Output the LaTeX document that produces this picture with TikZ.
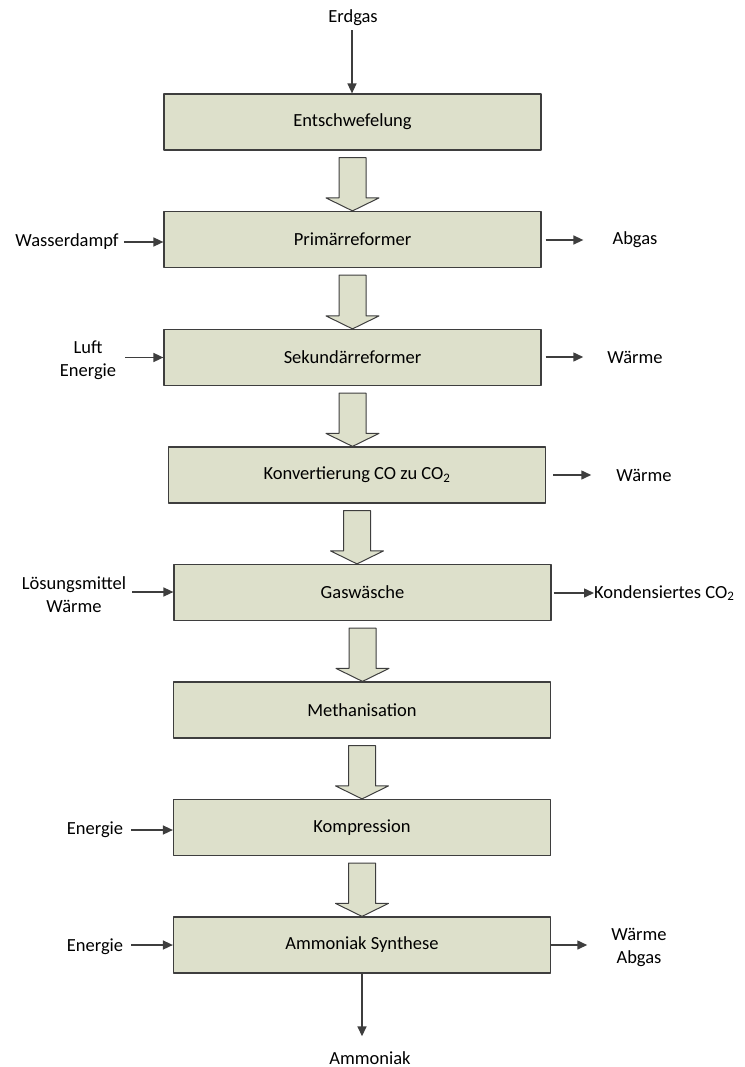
\documentclass[tikz,border=0pt]{standalone}
\usepackage{fontspec}
\setmainfont{Carlito}
\usetikzlibrary{arrows.meta,calc}
\definecolor{boxfill}{RGB}{221,224,203}
\definecolor{linegray}{RGB}{62,62,62}

% hollow block arrow from one stage down to the next
\newcommand{\flowarrow}[2]{%
  \filldraw[blockarrow] let \p1=(#1.south), \p2=(#2.north) in
    (\x1-13.5pt,\y1-7pt) -- (\x1+13.5pt,\y1-7pt) -- (\x1+13.5pt,\y2+13pt)
    -- (\x1+26.5pt,\y2+13pt) -- (\x1,\y2) -- (\x1-26.5pt,\y2+13pt)
    -- (\x1-13.5pt,\y2+13pt) -- cycle;}

\begin{document}
\begin{tikzpicture}[x=1pt,y=-1pt,join=round,
    font=\fontsize{18.5}{23}\selectfont,
    stage/.style={draw=linegray,fill=boxfill,line width=1.2pt,
      minimum width=377pt,minimum height=56pt,inner sep=0pt},
    blockarrow/.style={draw=linegray,fill=boxfill,line width=1pt},
    feed/.style={draw=linegray,line width=1.5pt,-{Triangle[length=10pt,width=9pt]}},
    streamtxt/.style={align=center,inner sep=0pt}]
  \useasboundingbox (0,0) rectangle (744,1067);
  % stages
  \node[stage] (entschw) at (352.5,122) {Entschwefelung};
  \node[stage] (prim) at (352.5,239.5) {Primärreformer};
  \node[stage] (sek) at (352.5,357.5) {Sekundärreformer};
  \node[stage] (konv) at (357,475) {Konvertierung CO zu CO\textsubscript{2}};
  \node[stage] (gasw) at (362.5,592.5) {Gaswäsche};
  \node[stage] (meth) at (362,710) {Methanisation};
  \node[stage] (kompr) at (362,827.5) {Kompression};
  \node[stage] (synth) at (362,945) {Ammoniak Synthese};
  \flowarrow{entschw}{prim}
  \flowarrow{prim}{sek}
  \flowarrow{sek}{konv}
  \flowarrow{konv}{gasw}
  \flowarrow{gasw}{meth}
  \flowarrow{meth}{kompr}
  \flowarrow{kompr}{synth}
  % streams in and out
  \node[streamtxt] (erdgas) at (353,18) {Erdgas};
  \node[streamtxt] (wasser) at (67,242) {Wasserdampf};
  \node[streamtxt] (abgas) at (635,240) {Abgas};
  \node[streamtxt] (luft) at (88,360) {Luft\\Energie};
  \node[streamtxt] (waermesek) at (635,357) {Wärme};
  \node[streamtxt] (waermekonv) at (644,475) {Wärme};
  \node[streamtxt] (loesung) at (74,595) {Lösungsmittel\\Wärme};
  \node[streamtxt,anchor=west] (kondens) at (594,593) {Kondensiertes CO\textsubscript{2}};
  \node[streamtxt] (energiekompr) at (95,830) {Energie};
  \node[streamtxt] (energiesynth) at (95,947) {Energie};
  \node[streamtxt] (waermesynth) at (639,947) {Wärme\\Abgas};
  \node[streamtxt] (ammoniak) at (370,1058) {Ammoniak};
  \draw[feed] ($(erdgas.south)+(-1,4)$) -- ($(erdgas.south |- entschw.north)+(-1,0)$);
  \draw[feed] ($(wasser.east)+(5,0)$) -- (wasser.east -| prim.west);
  \draw[feed] ($(luft.east |- sek.west)+(9,0)$) -- (sek.west);
  \draw[feed] ($(loesung.east)+(6,-3)$) -- ($(loesung.east -| gasw.west)+(0,-3)$);
  \draw[feed] ($(energiekompr.east)+(8,0)$) -- (energiekompr.east -| kompr.west);
  \draw[feed] ($(energiesynth.east)+(8,-2)$) -- ($(energiesynth.east -| synth.west)+(0,-2)$);
  \draw[feed] ($(prim.east |- abgas)+(4,0)$) -- ($(abgas.west)+(-29,0)$);
  \draw[feed] ($(sek.east |- waermesek)+(4,0)$) -- ($(waermesek.west)+(-24,0)$);
  \draw[feed] ($(konv.east |- waermekonv)+(7,0)$) -- ($(waermekonv.west)+(-25,0)$);
  \draw[feed] ($(gasw.east |- kondens.west)+(2,0)$) -- (kondens.west);
  \draw[feed] ($(synth.east |- waermesynth)+(0,-2)$) -- ($(waermesynth.west)+(-24,-2)$);
  \draw[feed] (synth.south) -- ($(synth.south |- ammoniak.north)+(0,-15)$);
\end{tikzpicture}
\end{document}
